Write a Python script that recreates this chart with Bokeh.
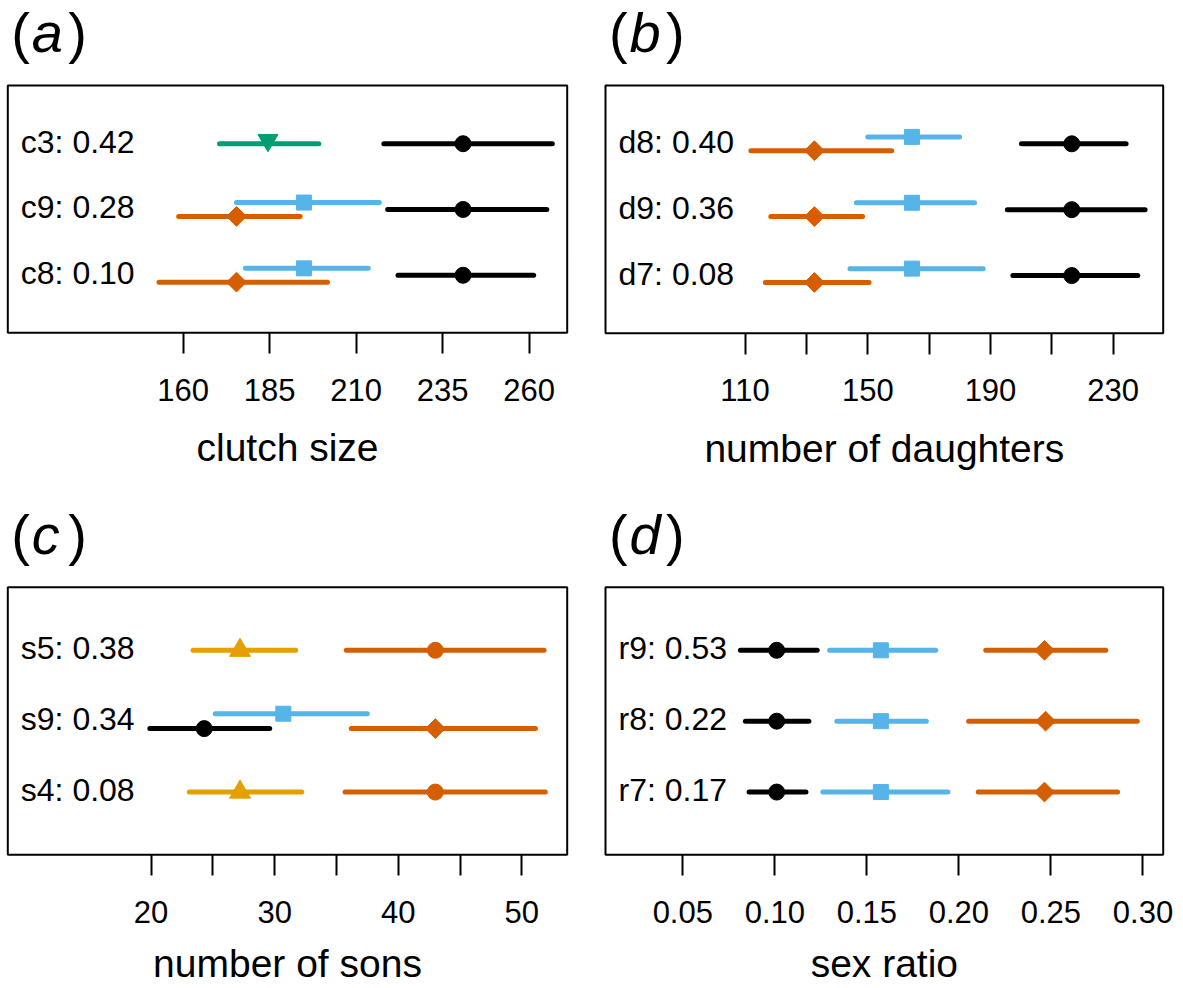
from bokeh.plotting import figure
from bokeh.layouts import column, row
from bokeh.models import Range1d, FixedTicker
from bokeh.embed import file_html
from bokeh.resources import INLINE
from bokeh.core.properties import value

# ---------------- data ----------------
# (a) clutch size
a_rows = ["c3", "c9", "c8"]
a_r2 = ["0.42", "0.28", "0.10"]
a_ticks = [160, 185, 210, 235, 260]
a_tick_labels = ["160", "185", "210", "235", "260"]
a_black_rows = ["c3", "c9", "c8"]
a_black_mean = [240.9, 240.9, 240.9]
a_black_lo = [218.0, 219.1, 222.1]
a_black_hi = [266.7, 265.1, 261.3]
a_green_rows = ["c3"]
a_green_mean = [184.5]
a_green_lo = [170.5]
a_green_hi = [199.2]
a_blue_rows = ["c9", "c8"]
a_blue_mean = [194.9, 194.9]
a_blue_lo = [175.4, 178.0]
a_blue_hi = [216.7, 213.5]
a_verm_rows = ["c9", "c8"]
a_verm_mean = [175.4, 175.4]
a_verm_lo = [158.7, 153.0]
a_verm_hi = [193.8, 201.7]

# (b) number of daughters
b_rows = ["d8", "d9", "d7"]
b_r2 = ["0.40", "0.36", "0.08"]
b_ticks = [110, 130, 150, 170, 190, 210, 230]
b_tick_labels = ["110", "", "150", "", "190", "", "230"]
b_black_rows = ["d8", "d9", "d7"]
b_black_mean = [216.5, 216.5, 216.5]
b_black_lo = [200.1, 195.5, 197.3]
b_black_hi = [234.2, 240.4, 238.0]
b_blue_rows = ["d8", "d9", "d7"]
b_blue_mean = [164.4, 164.4, 164.4]
b_blue_lo = [150.0, 146.3, 144.2]
b_blue_hi = [179.9, 184.8, 187.6]
b_verm_rows = ["d8", "d9", "d7"]
b_verm_mean = [132.6, 132.6, 132.6]
b_verm_lo = [111.9, 118.4, 116.6]
b_verm_hi = [157.8, 148.3, 150.4]

# (c) number of sons
c_rows = ["s5", "s9", "s4"]
c_r2 = ["0.38", "0.34", "0.08"]
c_ticks = [20, 25, 30, 35, 40, 45, 50]
c_tick_labels = ["20", "", "30", "", "40", "", "50"]
c_orange_rows = ["s5", "s4"]
c_orange_mean = [27.2, 27.2]
c_orange_lo = [23.4, 23.1]
c_orange_hi = [31.7, 32.2]
c_vermc_rows = ["s5", "s4"]
c_vermc_mean = [43.0, 43.0]
c_vermc_lo = [35.8, 35.7]
c_vermc_hi = [51.8, 51.9]
c_blue_rows = ["s9"]
c_blue_mean = [30.7]
c_blue_lo = [25.2]
c_blue_hi = [37.5]
c_black_rows = ["s9"]
c_black_mean = [24.3]
c_black_lo = [19.9]
c_black_hi = [29.6]
c_vermd_rows = ["s9"]
c_vermd_mean = [43.0]
c_vermd_lo = [36.2]
c_vermd_hi = [51.1]

# (d) sex ratio
d_rows = ["r9", "r8", "r7"]
d_r2 = ["0.53", "0.22", "0.17"]
d_ticks = [0.05, 0.10, 0.15, 0.20, 0.25, 0.30]
d_tick_labels = ["0.05", "0.10", "0.15", "0.20", "0.25", "0.30"]
d_black_rows = ["r9", "r8", "r7"]
d_black_mean = [0.101, 0.101, 0.101]
d_black_lo = [0.0813, 0.0840, 0.0860]
d_black_hi = [0.1230, 0.1185, 0.1169]
d_blue_rows = ["r9", "r8", "r7"]
d_blue_mean = [0.1576, 0.1576, 0.1576]
d_blue_lo = [0.1298, 0.1337, 0.1261]
d_blue_hi = [0.1874, 0.1823, 0.1940]
d_verm_rows = ["r9", "r8", "r7"]
d_verm_mean = [0.2465, 0.2471, 0.2465]
d_verm_lo = [0.2146, 0.2053, 0.2105]
d_verm_hi = [0.2798, 0.2969, 0.2862]

# ---------------- style ----------------
FONT = "Liberation Sans"
BLACK = "#000000"
VERM = "#D55E00"
SKY = "#56B4E9"
GREEN = "#009E73"
ORANGE = "#E69F00"
LW = 5
SHIFT = 0.105
DIAMOND = 0.7853981634


def make_panel(tag, xlabel, rows, r2, ticks, tick_labels, xr, yr, w, h,
               bl, br, bt, bb, title_rise, xlabel_drop, series):
    # xr / yr: data values at the edges of the drawn box; bl..bb: pixel margins
    x0, x1 = xr
    y0, y1 = yr
    fw = w - bl - br
    fh = h - bt - bb
    ppx = fw / (x1 - x0)
    ppy = fh / (y1 - y0)
    X0, X1 = x0 - bl / ppx, x1 + br / ppx
    Y0, Y1 = y0 - bb / ppy, y1 + bt / ppy
    p = figure(width=w, height=h, x_range=Range1d(X0, X1), y_range=Range1d(Y0, Y1),
               output_backend="svg", toolbar_location=None, y_axis_location=None,
               min_border=0)
    p.xgrid.visible = False
    p.ygrid.visible = False
    p.outline_line_color = None
    p.background_fill_color = "white"
    p.border_fill_color = "white"

    # box
    p.quad(left=[x0], right=[x1], bottom=[y0], top=[y1], fill_color=None,
           line_color="black", line_width=2)

    ax = p.xaxis[0]
    ax.fixed_location = y0
    ax.ticker = FixedTicker(ticks=ticks)
    overrides = {}
    for t, lab in zip(ticks, tick_labels):
        overrides[t] = lab
        overrides[str(t)] = lab
    ax.major_label_overrides = overrides
    ax.axis_line_color = None
    ax.major_tick_line_color = "black"
    ax.major_tick_line_width = 2
    ax.major_tick_out = 21
    ax.major_tick_in = 0
    ax.minor_tick_line_color = None
    ax.major_label_standoff = 25
    ax.major_label_text_font = FONT
    ax.major_label_text_font_size = "31px"
    ax.major_label_text_color = "black"

    row_y = {k: 3 - i for i, k in enumerate(rows)}

    for s in series:
        ys = [row_y[r] + s["shift"] for r in s["rows"]]
        p.segment(x0=s["lo"], y0=ys, x1=s["hi"], y1=ys, line_color=s["color"],
                  line_width=LW, line_cap="round")
        ym = [y + s.get("nudge", 0) / ppy for y in ys]
        p.scatter(x=s["mean"], y=ym, marker=s["marker"], size=s["size"],
                  angle=s.get("angle", 0.0), fill_color=s["color"],
                  line_color=s["color"], line_width=1)

    # row labels
    p.text(x=[x0 + 13 / ppx] * len(rows), y=[row_y[k] for k in rows],
           text=[f"{k}: {v}" for k, v in zip(rows, r2)],
           text_font=value(FONT), text_font_size="32px", text_color="black",
           text_align="left", text_baseline="middle", y_offset=-2)

    # panel tag: upright parentheses, italic letter
    ty = y1 + title_rise / ppy
    for txt, dx, style in (("(", 3.5, "normal"), (tag, 24, "italic"), (")", 60.5, "normal")):
        p.text(x=[x0], y=[ty], text=[txt], x_offset=dx,
               text_font=value(FONT), text_font_style=style, text_font_size="56px",
               text_color="black", text_align="left", text_baseline="middle")
    # axis title
    p.text(x=[(x0 + x1) / 2], y=[y0 - xlabel_drop / ppy], text=[xlabel],
           text_font=value(FONT), text_font_size="39px", text_color="black",
           text_align="center", text_baseline="middle")
    return p


def ser(rows, mean, lo, hi, color, marker, size, shift=0.0, angle=0.0, nudge=0.0):
    return dict(rows=rows, mean=mean, lo=lo, hi=hi, color=color, marker=marker,
                size=size, shift=shift, angle=angle, nudge=nudge)


TOP_H, BOT_H = 495, 492
LEFT_W, RIGHT_W = 600, 580

pa = make_panel("a", "clutch size", a_rows, a_r2, a_ticks, a_tick_labels,
                (109.3, 271.0), (0.125, 3.885), LEFT_W, TOP_H,
                7.3, 33.3, 85, 162.7, 53, 115,
                [ser(a_green_rows, a_green_mean, a_green_lo, a_green_hi, GREEN,
                     "inverted_triangle", 20, 0.0, nudge=3.5),
                 ser(a_black_rows, a_black_mean, a_black_lo, a_black_hi, BLACK, "circle", 16),
                 ser(a_blue_rows, a_blue_mean, a_blue_lo, a_blue_hi, SKY, "square", 15, SHIFT),
                 ser(a_verm_rows, a_verm_mean, a_verm_lo, a_verm_hi, VERM, "square", 14,
                     -SHIFT, angle=DIAMOND)])

pb = make_panel("b", "number of daughters", b_rows, b_r2, b_ticks, b_tick_labels,
                (64.5, 246.3), (0.125, 3.885), RIGHT_W, TOP_H,
                5, 17.3, 85, 162.3, 53, 115,
                [ser(b_black_rows, b_black_mean, b_black_lo, b_black_hi, BLACK, "circle", 16),
                 ser(b_blue_rows, b_blue_mean, b_blue_lo, b_blue_hi, SKY, "square", 15, SHIFT),
                 ser(b_verm_rows, b_verm_mean, b_verm_lo, b_verm_hi, VERM, "square", 14,
                     -SHIFT, angle=DIAMOND)])

pc = make_panel("c", "number of sons", c_rows, c_r2, c_ticks, c_tick_labels,
                (8.41, 53.67), (0.115, 3.89), LEFT_W, BOT_H,
                7.3, 33.3, 91.7, 132.7, 52.5, 109,
                [ser(c_orange_rows, c_orange_mean, c_orange_lo, c_orange_hi, ORANGE, "triangle", 21),
                 ser(c_vermc_rows, c_vermc_mean, c_vermc_lo, c_vermc_hi, VERM, "circle", 16),
                 ser(c_blue_rows, c_blue_mean, c_blue_lo, c_blue_hi, SKY, "square", 15, SHIFT),
                 ser(c_black_rows, c_black_mean, c_black_lo, c_black_hi, BLACK, "circle", 16, -SHIFT),
                 ser(c_vermd_rows, c_vermd_mean, c_vermd_lo, c_vermd_hi, VERM, "square", 14,
                     -SHIFT, angle=DIAMOND)])

pd_ = make_panel("d", "sex ratio", d_rows, d_r2, d_ticks, d_tick_labels,
                 (0.008, 0.311), (0.115, 3.89), RIGHT_W, BOT_H,
                 5, 17.3, 91.7, 132.7, 52.5, 109,
                 [ser(d_black_rows, d_black_mean, d_black_lo, d_black_hi, BLACK, "circle", 16),
                  ser(d_blue_rows, d_blue_mean, d_blue_lo, d_blue_hi, SKY, "square", 15),
                  ser(d_verm_rows, d_verm_mean, d_verm_lo, d_verm_hi, VERM, "square", 14,
                      angle=DIAMOND)])

layout = column(row(pa, pb), row(pc, pd_))
open("out.html", "w").write(file_html(layout, INLINE))
